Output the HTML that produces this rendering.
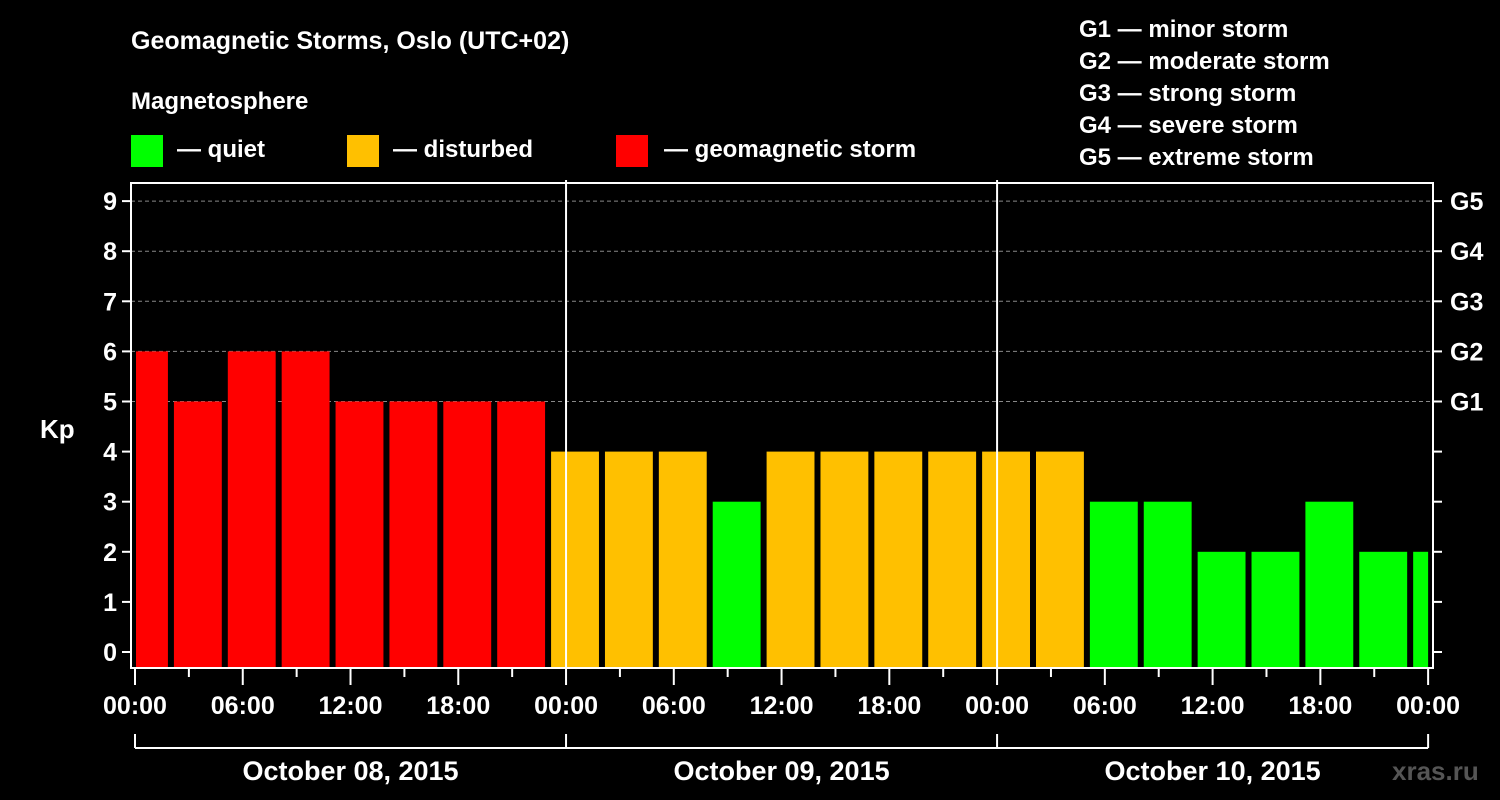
<!DOCTYPE html>
<html><head><meta charset="utf-8"><style>
html,body{margin:0;padding:0;background:#000;}
svg{display:block;font-family:"Liberation Sans",sans-serif;font-weight:bold;}
</style></head><body>
<svg id="chart" width="1500" height="800" viewBox="0 0 1500 800">
<rect width="1500" height="800" fill="#000"/>
<text x="131" y="49" fill="#fff" font-size="25">Geomagnetic Storms, Oslo (UTC+02)</text>
<text x="131" y="109" fill="#fff" font-size="24">Magnetosphere</text>
<g><rect x="131" y="135" width="32" height="32" fill="#00ff00"/><text x="177" y="157" fill="#fff" font-size="24">— quiet</text></g>
<g><rect x="347" y="135" width="32" height="32" fill="#ffc000"/><text x="393" y="157" fill="#fff" font-size="24">— disturbed</text></g>
<g><rect x="616" y="135" width="32" height="32" fill="#ff0000"/><text x="664" y="157" fill="#fff" font-size="24">— geomagnetic storm</text></g>
<g fill="#fff" font-size="24">
<text x="1079" y="37">G1 — minor storm</text>
<text x="1079" y="69">G2 — moderate storm</text>
<text x="1079" y="101">G3 — strong storm</text>
<text x="1079" y="133">G4 — severe storm</text>
<text x="1079" y="165">G5 — extreme storm</text>
</g>
<text x="40" y="438" fill="#fff" font-size="26">Kp</text>
<text x="1392" y="780" fill="#555" font-size="26">xras.ru</text>
<g id="grid"></g><g id="bars"></g><g id="axes"></g>
</svg>
<script>
const kpValues=[6,5,6,6,5,5,5,5,4,4,4,3,4,4,4,4,4,4,3,3,2,2,3,2,2];
const barStartHours=[-1,2,5,8,11,14,17,20,23,26,29,32,35,38,41,44,47,50,53,56,59,62,65,68,71];
const yTicks=[0,1,2,3,4,5,6,7,8,9];
const gLabels=["","","","","","G1","G2","G3","G4","G5"];
const xTickLabels=["00:00","06:00","12:00","18:00","00:00","06:00","12:00","18:00","00:00","06:00","12:00","18:00","00:00"];
const dayLabels=["October 08, 2015","October 09, 2015","October 10, 2015"];
const NS="http://www.w3.org/2000/svg";
const L=131,R=1433,T=183,B=668,X0=135,PXH=17.96;
const x=h=>X0+h*PXH;
const y=v=>652-v*50.1;
function mk(tag,attrs,parent,txt){const e=document.createElementNS(NS,tag);for(const k in attrs)e.setAttribute(k,attrs[k]);if(txt!==undefined)e.textContent=txt;parent.appendChild(e);return e;}
const grid=document.getElementById('grid'),bars=document.getElementById('bars'),axes=document.getElementById('axes');
yTicks.forEach((v,i)=>{
 if(v>=5){const g=mk('line',{x1:L,x2:R,y1:y(v),y2:y(v),stroke:'#888','stroke-dasharray':'4,3','stroke-width':1},grid);
 
 }
 const t=mk('line',{x1:L-9,x2:L,y1:y(v),y2:y(v),stroke:'#fff','stroke-width':2},axes);
 
 
 const lb=mk('text',{x:L-14,y:y(v)+9,fill:'#fff','font-size':25,'text-anchor':'end'},axes,String(v));
 
 
 const rt=mk('line',{x1:R,x2:R+9,y1:y(v),y2:y(v),stroke:'#fff','stroke-width':2},axes);
 
 
 if(gLabels[i]){const gl=mk('text',{x:1450,y:y(v)+9,fill:'#fff','font-size':25},axes,gLabels[i]);
 
 }
});
kpValues.forEach((v,i)=>{
 const h0=barStartHours[i];
 let x1=x(h0)+3,x2=x(h0+3)-3;
 x1=Math.max(x1,L+5);x2=Math.min(x2,x(72));
 const col=v>=5?'#ff0000':(v>=4?'#ffc000':'#00ff00');
 const r=mk('rect',{x:x1,y:y(v),width:x2-x1,height:B-y(v),fill:col},bars);
 
 
});
[24,48].forEach(h=>{const d=mk('line',{x1:x(h),x2:x(h),y1:T-3,y2:B,stroke:'#fff','stroke-width':2},axes);
 
 });
const fr=mk('rect',{x:L,y:T,width:R-L,height:B-T,fill:'none',stroke:'#fff','stroke-width':2},axes);


for(let h=0;h<=72;h+=3){const major=h%6===0;
 const t=mk('line',{x1:x(h),x2:x(h),y1:B,y2:B+(major?17:9),stroke:'#fff','stroke-width':2},axes);
 
 }
xTickLabels.forEach((s,i)=>{const t=mk('text',{x:x(i*6),y:714,fill:'#fff','font-size':25,'text-anchor':'middle'},axes,s);
 
 });
const br=mk('line',{x1:x(0),x2:x(72),y1:748,y2:748,stroke:'#fff','stroke-width':2},axes);


[0,24,48,72].forEach(h=>{const t=mk('line',{x1:x(h),x2:x(h),y1:734,y2:748,stroke:'#fff','stroke-width':2},axes);
 
 });
dayLabels.forEach((s,i)=>{const t=mk('text',{x:x(i*24+12),y:780,fill:'#fff','font-size':27,'text-anchor':'middle'},axes,s);
 
 });
</script>
</body></html>
